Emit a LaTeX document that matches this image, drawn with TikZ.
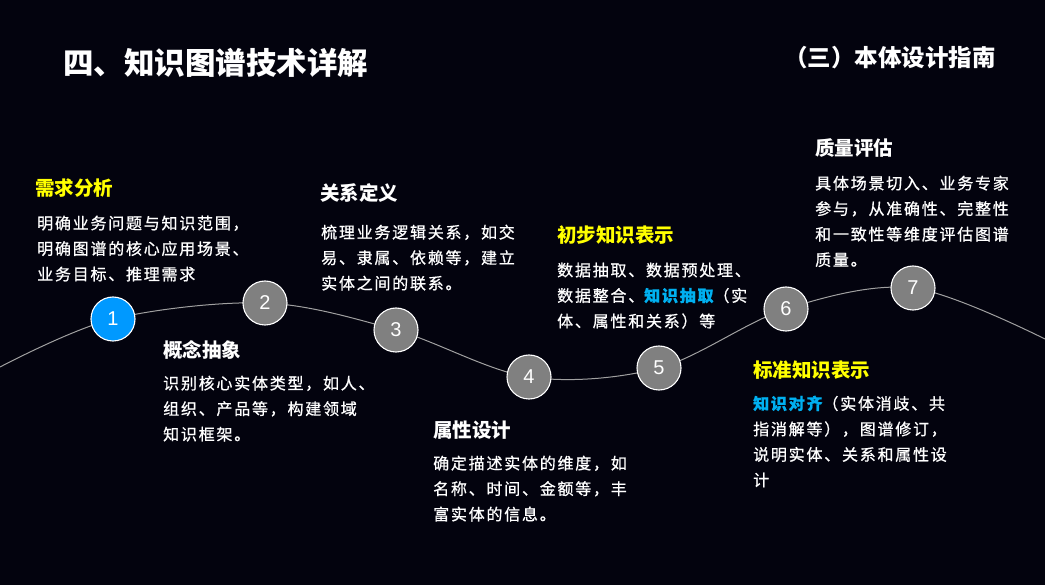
\documentclass[tikz,border=0pt]{standalone}
\usepackage{fontspec}
\setmainfont{Noto Sans CJK SC}
\newfontfamily\numfont{Liberation Sans}
\newfontfamily\bodyfont[LetterSpace=11,FakeBold=0.8]{Noto Sans CJK SC}
\definecolor{bgc}{RGB}{3,3,14}
\definecolor{kyellow}{RGB}{255,255,0}
\definecolor{kblue}{RGB}{0,176,240}
\definecolor{cblue}{RGB}{0,153,255}
\definecolor{cgray}{RGB}{128,128,128}
\definecolor{wave}{RGB}{160,160,160}
\tikzset{
  headw/.style={anchor=west, inner sep=0pt, text=white, font=\fontsize{19.5}{20}\selectfont\bfseries},
  heady/.style={headw, text=kyellow},
  bodytext/.style={anchor=north west, inner sep=0pt, align=left, text=white, font=\bodyfont\fontsize{16}{25.5}\selectfont},
  stepcircle/.style={circle, draw=white, line width=1.1pt, fill=cgray, minimum size=44pt, inner sep=0pt, text=white, font=\numfont\fontsize{20}{20}\selectfont},
  wavepath/.style={draw=wave, line width=1pt},
}
\newcommand{\kb}[1]{{\color{kblue}\bfseries #1}}
\begin{document}
\begin{tikzpicture}[x=1pt,y=1pt]
\fill[bgc] (0,0) rectangle (1045,-585);
\useasboundingbox (0,0) rectangle (1045,-585);

% titles
\node[anchor=west, inner sep=0pt, text=white, font=\fontsize{30.5}{31}\selectfont\bfseries] (title) at (63,-63) {四、知识图谱技术详解};
\node[anchor=east, inner sep=0pt, text=white, font=\fontsize{23.5}{24}\selectfont\bfseries] (subtitle) at (996,-58) {（三）本体设计指南};

% wave
\coordinate (L) at (0,-367);
\coordinate (p1) at (113,-319);
\coordinate (p2) at (265,-303);
\coordinate (p3) at (396,-330);
\coordinate (p4) at (529,-377);
\coordinate (p5) at (659,-368);
\coordinate (p6) at (786,-309);
\coordinate (p7) at (913,-288);
\coordinate (R) at (1045,-339);
\draw[wavepath] plot[smooth, tension=0.55] coordinates {(L) (p1) (p2) (p3) (p4) (p5) (p6) (p7) (R)};

% step circles
\node[stepcircle, fill=cblue] (n1) at (p1) {1};
\node[stepcircle] (n2) at (p2) {2};
\node[stepcircle] (n3) at (p3) {3};
\node[stepcircle] (n4) at (p4) {4};
\node[stepcircle] (n5) at (p5) {5};
\node[stepcircle] (n6) at (p6) {6};
\node[stepcircle] (n7) at (p7) {7};

% step 1
\node[heady] (h1) at (35,-188) {需求分析};
\node[bodytext] (b1) at (37,-215.5) {明确业务问题与知识范围，\\明确图谱的核心应用场景、\\业务目标、推理需求};
% step 2
\node[headw] (h2) at (163,-350) {概念抽象};
\node[bodytext] (b2) at (163,-375.5) {识别核心实体类型，如人、\\组织、产品等，构建领域\\知识框架。};
% step 3
\node[headw] (h3) at (320,-193) {关系定义};
\node[bodytext] (b3) at (321,-224.5) {梳理业务逻辑关系，如交\\易、隶属、依赖等，建立\\实体之间的联系。};
% step 4
\node[headw] (h4) at (433,-430) {属性设计};
\node[bodytext] (b4) at (433,-455.5) {确定描述实体的维度，如\\名称、时间、金额等，丰\\富实体的信息。};
% step 5
\node[heady] (h5) at (557,-235) {初步知识表示};
\node[bodytext] (b5) at (557,-262.5) {数据抽取、数据预处理、\\数据整合、\kb{知识抽取}（实\\体、属性和关系）等};
% step 6
\node[heady] (h6) at (753,-370) {标准知识表示};
\node[bodytext] (b6) at (753,-395.5) {\kb{知识对齐}（实体消歧、共\\指消解等），图谱修订，\\说明实体、关系和属性设\\计};
% step 7
\node[headw] (h7) at (815,-148) {质量评估};
\node[bodytext] (b7) at (815,-175.5) {具体场景切入、业务专家\\参与，从准确性、完整性\\和一致性等维度评估图谱\\质量。};
\end{tikzpicture}
\end{document}
